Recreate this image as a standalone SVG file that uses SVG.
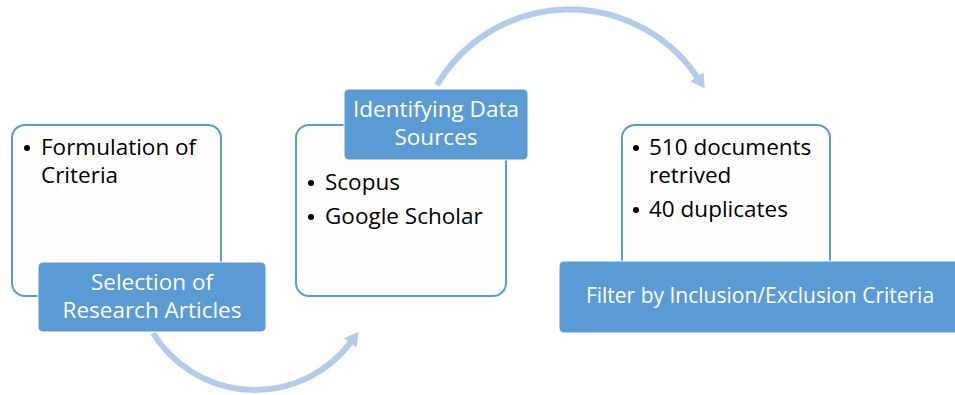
<svg xmlns="http://www.w3.org/2000/svg" width="955" height="395" viewBox="0 0 955 395">
<style>
.box{fill:#fefefe;stroke:#5b9bd5;stroke-width:2}
.lab{fill:#5b9bd5;stroke:#ffffff;stroke-width:1}
.lt{font-family:"Open Sans","Liberation Sans",sans-serif;font-size:22.5px;fill:#ffffff;text-anchor:middle}
.bt{font-family:"Open Sans","Liberation Sans",sans-serif;font-size:22.5px;fill:#000000}
.arc{fill:none;stroke:#b4cbe9;stroke-width:6}
</style>
<defs>
<marker id="ah" markerUnits="userSpaceOnUse" markerWidth="20" markerHeight="20" refX="2" refY="0" viewBox="0 -10 16 20" orient="auto">
<path d="M0,-8 L14,0 L0,8 z" fill="#b4cbe9"/>
</marker>
</defs>
<rect width="955" height="395" fill="#ffffff"/>
<g id="connectors">
<path class="arc" d="M153,333 A120,120 0 0 0 351.5,341.4" marker-end="url(#ah)"/>
<path class="arc" d="M437,85 A154,154 0 0 1 698.1,78.6" marker-end="url(#ah)"/>
</g>
<g id="node1">
<rect class="box" x="12" y="125" width="209" height="171" rx="13"/>
<circle cx="27" cy="148" r="3"/>
<text class="bt" x="41" y="155">Formulation of</text>
<text class="bt" x="41" y="183">Criteria</text>
<rect class="lab" x="38" y="262" width="228" height="70" rx="5"/>
<text class="lt" x="152" y="290">Selection of</text>
<text class="lt" x="152" y="318">Research Articles</text>
</g>
<g id="node2">
<rect class="box" x="296" y="125" width="210" height="171" rx="13"/>
<circle cx="311" cy="183" r="3"/>
<text class="bt" x="325" y="190">Scopus</text>
<circle cx="311" cy="217" r="3"/>
<text class="bt" x="325" y="224">Google Scholar</text>
<rect class="lab" x="344" y="89" width="184" height="71" rx="5"/>
<text class="lt" x="436" y="117">Identifying Data</text>
<text class="lt" x="436" y="145">Sources</text>
</g>
<g id="node3">
<rect class="box" x="622" y="125" width="208" height="171" rx="13"/>
<circle cx="636" cy="148" r="3"/>
<text class="bt" x="649" y="155">510 documents</text>
<text class="bt" x="649" y="183">retrived</text>
<circle cx="636" cy="210" r="3"/>
<text class="bt" x="649" y="217">40 duplicates</text>
<rect class="lab" x="559" y="261" width="402" height="72" rx="5"/>
<text class="lt" x="760" y="303" style="font-size:21px">Filter by Inclusion/Exclusion Criteria</text>
</g>
</svg>
